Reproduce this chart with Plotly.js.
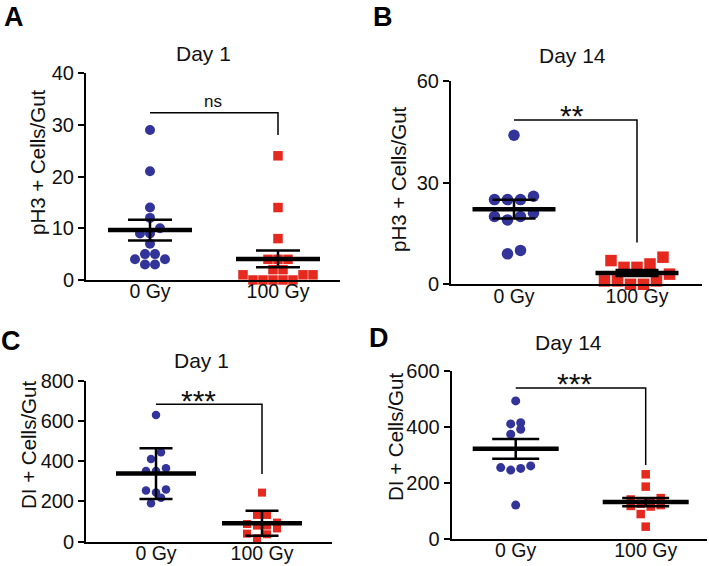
<!DOCTYPE html>
<html><head><meta charset="utf-8">
<script src="https://cdn.plot.ly/plotly-3.0.1.min.js"></script>
<style>html,body{margin:0;padding:0;background:#fff}#chart{width:709px;height:566px}</style>
</head><body><div id="chart"></div>
<script>
// ---------------- data ----------------
const categories = ['0 Gy', '100 Gy'];
const panelLetters = ['A', 'B', 'C', 'D'];
const panelTitles = ['Day 1', 'Day 14', 'Day 1', 'Day 14'];
const yAxisTitles = ['pH3 + Cells/Gut', 'pH3 + Cells/Gut', 'DI + Cells/Gut', 'DI + Cells/Gut'];

const yTicksA = [0, 10, 20, 30, 40];
const yTicksB = [0, 30, 60];
const yTicksC = [0, 200, 400, 600, 800];
const yTicksD = [0, 200, 400, 600];

const ctrlA = [29, 21, 14, 12, 10, 9, 9, 7, 5, 5, 4, 4, 3, 3];
const irrA  = [24, 14, 8, 4, 4, 4, 2, 2, 1, 1, 1, 0, 0, 0, 0, 0];
const ctrlB = [44, 26, 25, 25, 25, 21, 20, 20, 19, 10, 9];
const irrB  = [8, 7, 6, 5, 5, 3, 1, 1, 1, 0, 0];
const ctrlC = [630, 444, 411, 365, 351, 351, 260, 254, 245, 219, 191];
const irrC  = [244, 133, 133, 95, 88, 80, 80, 66, 40, 37, 17];
const ctrlD = [492, 414, 410, 391, 373, 260, 254, 251, 245, 120];
const irrD  = [230, 186, 145, 140, 130, 125, 120, 117, 115, 88, 43];

const errorTypes = ['sem', 'sem', 'sd', 'sem'];
const significance = ['ns', '**', '***', '***'];
const bracketTop = [32.3, 48.5, 683, 538];
const bracketDrop = [28, 12.3, 336, 263];

// ---------------- geometry / style ----------------
const W = 709, H = 566;
const FONT = 'Liberation Sans, Arial, Helvetica, sans-serif';
const BLUE = '#33349a', RED = '#e5291f';
const panels = [
  {ctrl: ctrlA, irr: irrA, ticks: yTicksA, ymax: 40,  x0: 86,    x1: 340, yTop: 73,    yBot: 280,   c0: 150,   c1: 278,
   cSize: 10, sSize: 9.5, gap: 10, meanHalf: 42, capHalf: 22,
   letter: [14, 0, 'top'], title: [203, 53], ytitle: [37, 162], sig: [213, 113], sigSize: 17},
  {ctrl: ctrlB, irr: irrB, ticks: yTicksB, ymax: 60,  x0: 451,   x1: 702, yTop: 81,    yBot: 284.3, c0: 514,   c1: 637,
   cSize: 11.5, sSize: 11.5, gap: 13, meanHalf: 41.5, capHalf: 21.5,
   letter: [383, 0, 'top'], title: [572, 55.5], ytitle: [398, 179], sig: [572, 134], sigSize: 30},
  {ctrl: ctrlC, irr: irrC, ticks: yTicksC, ymax: 800, x0: 86,    x1: 332, yTop: 380.7, yBot: 541.7, c0: 156,   c1: 262,
   cSize: 8.5, sSize: 8, gap: 10, meanHalf: 40, capHalf: 16.5,
   letter: [11, 341, 'middle'], title: [201, 360.5], ytitle: [28, 445], sig: [198, 419], sigSize: 30},
  {ctrl: ctrlD, irr: irrD, ticks: yTicksD, ymax: 600, x0: 451.7, x1: 707, yTop: 370.7, yBot: 538.7, c0: 515.7, c1: 645.7,
   cSize: 9, sSize: 8.5, gap: 10, meanHalf: 43, capHalf: 23.5,
   letter: [379, 338, 'middle'], title: [568, 342.5], ytitle: [395, 437], sig: [574, 402], sigSize: 30}
];

function mean(a) { return a.reduce((s, v) => s + v, 0) / a.length; }
function sd(a) { const m = mean(a); return Math.sqrt(a.reduce((s, v) => s + (v - m) * (v - m), 0) / (a.length - 1)); }
function errOf(a, type) { return type === 'sd' ? sd(a) : sd(a) / Math.sqrt(a.length); }

// scatter-dot arrangement: group values in rows, spread each row around the centre
function swarm(values, ppuY, gapPx, ppuX) {
  const idx = values.map((v, i) => i).sort((a, b) => values[a] - values[b]);
  const binH = gapPx / ppuY;
  const off = new Array(values.length).fill(0);
  let i = 0;
  while (i < idx.length) {
    const start = values[idx[i]];
    const row = [];
    while (i < idx.length && values[idx[i]] < start + binH - 1e-9) { row.push(idx[i]); i++; }
    const n = row.length;
    const slots = [];
    for (let k = 0; k < n; k++) slots.push((k - (n - 1) / 2) * gapPx);
    slots.sort((a, b) => (Math.abs(a) - Math.abs(b)) || (a - b));
    row.forEach((id, k) => { off[id] = slots[k] / ppuX; });
  }
  return off;
}

const px2x = x => x / W, px2y = y => 1 - y / H;
const data = [], shapes = [], annotations = [];
const layout = {
  width: W, height: H, margin: {l: 0, r: 0, t: 0, b: 0},
  paper_bgcolor: '#fff', plot_bgcolor: 'rgba(0,0,0,0)', showlegend: false,
  font: {family: FONT, color: '#111', size: 18}
};

panels.forEach((p, i) => {
  const sfx = i === 0 ? '' : String(i + 1);
  const xa = 'x' + sfx, ya = 'y' + sfx;
  const ppuX = p.c1 - p.c0;
  const ppuY = (p.yBot - p.yTop) / p.ymax;
  layout['xaxis' + sfx] = {
    domain: [px2x(p.x0), px2x(p.x1)], anchor: ya,
    range: [-(p.c0 - p.x0) / ppuX, (p.x1 - p.c0) / ppuX],
    showgrid: false, zeroline: false, showline: true, linewidth: 2, linecolor: '#000',
    ticks: '', tickvals: [0, 1], ticktext: categories, ticklabelstandoff: -7,
    tickfont: {family: FONT, size: 19.5, color: '#111'}, fixedrange: true
  };
  layout['yaxis' + sfx] = {
    domain: [px2y(p.yBot), px2y(p.yTop)], anchor: xa,
    range: [0, p.ymax],
    showgrid: false, zeroline: false, showline: true, linewidth: 2, linecolor: '#000',
    ticks: 'outside', ticklen: 6, tickwidth: 2, tickcolor: '#000',
    tickvals: p.ticks, ticktext: p.ticks.map(String),
    tickfont: {family: FONT, size: 20, color: '#111'}, fixedrange: true
  };

  const offC = swarm(p.ctrl, ppuY, p.gap, ppuX);
  const offI = swarm(p.irr, ppuY, p.gap, ppuX);
  data.push({type: 'scatter', mode: 'markers', xaxis: xa, yaxis: ya, cliponaxis: false, hoverinfo: 'skip',
    x: offC.map(o => 0 + o), y: p.ctrl, marker: {symbol: 'circle', size: p.cSize, color: BLUE, line: {width: 0}}});
  data.push({type: 'scatter', mode: 'markers', xaxis: xa, yaxis: ya, cliponaxis: false, hoverinfo: 'skip',
    x: offI.map(o => 1 + o), y: p.irr, marker: {symbol: 'square', size: p.sSize, color: RED, line: {width: 0}}});

  const groups = [p.ctrl, p.irr];
  const mx = [], my = [], ex = [], ey = [];
  const hw = p.meanHalf / ppuX, cw = p.capHalf / ppuX;
  groups.forEach((g, k) => {
    const m = mean(g), e = errOf(g, errorTypes[i]);
    mx.push(k - hw, k + hw, null); my.push(m, m, null);
    ex.push(k, k, null, k - cw, k + cw, null, k - cw, k + cw, null);
    ey.push(m - e, m + e, null, m + e, m + e, null, m - e, m - e, null);
  });
  data.push({type: 'scatter', mode: 'lines', xaxis: xa, yaxis: ya, cliponaxis: false, hoverinfo: 'skip',
    x: ex, y: ey, line: {color: '#000', width: 2.5}});
  data.push({type: 'scatter', mode: 'lines', xaxis: xa, yaxis: ya, cliponaxis: false, hoverinfo: 'skip',
    x: mx, y: my, line: {color: '#000', width: 4.5}});

  shapes.push({type: 'path', xref: xa, yref: ya,
    path: `M0,${bracketTop[i]} L1,${bracketTop[i]} L1,${bracketDrop[i]}`,
    line: {color: '#000', width: 1.5}});

  annotations.push({text: significance[i], xref: 'paper', yref: 'paper', x: px2x(p.sig[0]), y: px2y(p.sig[1]),
    xanchor: 'center', yanchor: 'bottom', showarrow: false, font: {family: FONT, size: p.sigSize, color: '#111'}});
  annotations.push({text: '<b>' + panelLetters[i] + '</b>', xref: 'paper', yref: 'paper', x: px2x(p.letter[0]), y: px2y(p.letter[1]),
    xanchor: 'center', yanchor: p.letter[2], showarrow: false, font: {family: FONT, size: 27, color: '#000'}});
  annotations.push({text: panelTitles[i], xref: 'paper', yref: 'paper', x: px2x(p.title[0]), y: px2y(p.title[1]),
    xanchor: 'center', yanchor: 'middle', showarrow: false, font: {family: FONT, size: 21, color: '#111'}});
  annotations.push({text: yAxisTitles[i], xref: 'paper', yref: 'paper', x: px2x(p.ytitle[0]), y: px2y(p.ytitle[1]),
    xanchor: 'center', yanchor: 'middle', textangle: -90, showarrow: false, font: {family: FONT, size: 20.5, color: '#111'}});
});
layout.shapes = shapes;
layout.annotations = annotations;

Plotly.newPlot('chart', data, layout, {staticPlot: true, displayModeBar: false});
</script>
</body></html>
